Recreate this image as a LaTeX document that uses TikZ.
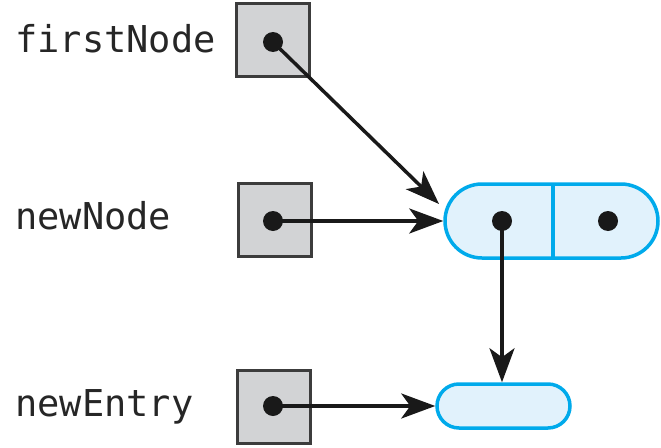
\documentclass[tikz,border=0pt]{standalone}
\usepackage{fontspec}
\setmonofont{DejaVu Sans Mono}
\usetikzlibrary{arrows.meta,shapes.misc}
\definecolor{boxgray}{RGB}{210,211,213}
\definecolor{boxline}{RGB}{60,60,60}
\definecolor{pillline}{RGB}{0,170,235}
\definecolor{pillfill}{RGB}{225,242,252}
\begin{document}
\begin{tikzpicture}[x=1pt,y=-1pt,
  lbl/.style={anchor=base west,inner sep=0pt,font=\fontsize{37}{40}\selectfont\ttfamily,text=black!85},
  refbox/.style={draw=boxline,fill=boxgray,line width=2.5pt,minimum width=73pt,minimum height=73pt,inner sep=0pt},
  pill/.style={rounded rectangle,draw=pillline,fill=pillfill,line width=3.5pt,inner sep=0pt},
  ptr/.style={line width=3.5pt,draw=black!90,-{Stealth[length=34pt,width=25pt,inset=9pt]}},
  dot/.style={circle,fill=black!90,minimum size=20pt,inner sep=0pt}]
\useasboundingbox (0,0) rectangle (661,447);
\node[lbl] (l1) at (15,52) {firstNode};
\node[lbl] (l2) at (15,229) {newNode};
\node[lbl] (l3) at (15,416) {newEntry};
\node[refbox] (b1) at (273,40) {};
\node[refbox] (b2) at (275,220) {};
\node[refbox] (b3) at (274,407) {};
\node[pill,minimum width=213pt,minimum height=74pt] (n) at (551.5,221) {};
\draw[pillline,line width=3.5pt] (553,184) -- (553,258);
\node[pill,minimum width=133pt,minimum height=44pt] (e) at (503.5,406) {};
\node[dot] (d1) at (273,42) {};
\node[dot] (d2) at (273,221) {};
\node[dot] (d3) at (273,406) {};
\node[dot] (d4) at (502,221) {};
\node[dot] (d5) at (608,221) {};
\coordinate (t1) at (439,204);
\draw[ptr] (d1.center) -- (t1);
\draw[ptr] (d2.center) -- (d2 -| n.west);
\draw[ptr] (d4.center) -- (d4 |- e.north);
\draw[ptr] (d3.center) -- (d3 -| e.west);
\end{tikzpicture}
\end{document}
